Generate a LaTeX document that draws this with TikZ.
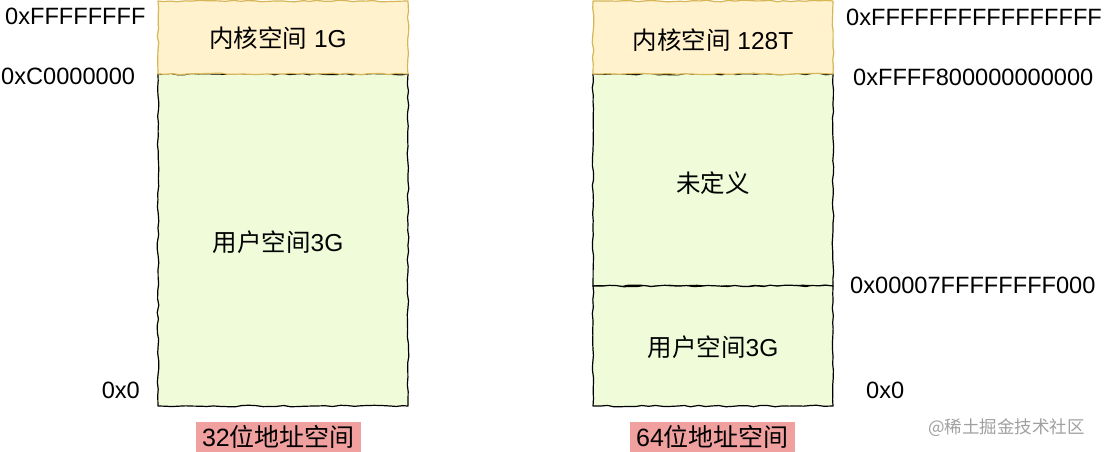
\documentclass[tikz,border=0pt]{standalone}
\usepackage{fontspec}
\setmainfont{Liberation Sans}
\newfontfamily\cjk{Noto Sans CJK SC}
\usetikzlibrary{decorations.pathmorphing}
\definecolor{kfill}{HTML}{FFF2CC}
\definecolor{kline}{HTML}{D6B656}
\definecolor{ufill}{HTML}{F0FCD9}
\definecolor{tagfill}{HTML}{F0A09E}
\definecolor{wm}{HTML}{A0A0A0}
\tikzset{
  sketch/.style={decorate, decoration={random steps, segment length=7pt, amplitude=0.8pt}, line width=1.2pt, line join=round},
  kbox/.style={sketch, fill=kfill, draw=kline},
  ubox/.style={sketch, fill=ufill, draw=black},
  lbl/.style={font=\fontsize{23.6}{27}\selectfont, inner sep=0pt},
  boxtxt/.style={font=\fontsize{24.5}{28}\selectfont, inner sep=0pt},
  tag/.style={font=\fontsize{25}{29}\selectfont, fill=tagfill, inner xsep=4pt, inner ysep=2pt, minimum width=165pt, minimum height=31pt},
}
\begin{document}
\begin{tikzpicture}[x=1pt,y=-1pt]
\pgfmathsetseed{7}
\useasboundingbox (0,0) rectangle (1106,452);
% left column
\path[ubox] (158,74) rectangle (408,406);
\path[kbox] (158,1) rectangle (408,74);
% right column
\path[ubox] (593,74) rectangle (833,286);
\path[ubox] (593,286) rectangle (833,406);
\path[kbox] (593,1) rectangle (833,74);
% box texts
\node[boxtxt] (k32) at (278,38) {{\cjk 内核空间} 1G};
\node[boxtxt] (u32) at (278,242) {{\cjk 用户空间}3G};
\node[boxtxt] (k64) at (713,40) {{\cjk 内核空间} 128T};
\node[boxtxt] (nd64) at (713,183) {\cjk 未定义};
\node[boxtxt] (u64) at (713,347) {{\cjk 用户空间}3G};
% left address labels
\node[lbl, anchor=west] (a1) at (5,16) {0xFFFFFFFF};
\node[lbl, anchor=west] (a2) at (1,76) {0xC0000000};
\node[lbl, anchor=east] (a3) at (140,390) {0x0};
% right address labels
\node[lbl, anchor=west] (b1) at (846,17) {0xFFFFFFFFFFFFFFFF};
\node[lbl, anchor=west] (b2) at (853,77) {0xFFFF800000000000};
\node[lbl, anchor=west] (b3) at (850,285) {0x00007FFFFFFFF000};
\node[lbl, anchor=west] (b4) at (866,390) {0x0};
% captions
\node[tag] (t32) at (278.5,437) {32{\cjk 位地址空间}};
\node[tag] (t64) at (712.5,437) {64{\cjk 位地址空间}};
% watermark
\node[font=\cjk\fontsize{17.5}{20}\selectfont, text=wm, inner sep=0pt, anchor=west] (wmk) at (928,428) {@稀土掘金技术社区};
\end{tikzpicture}
\end{document}
